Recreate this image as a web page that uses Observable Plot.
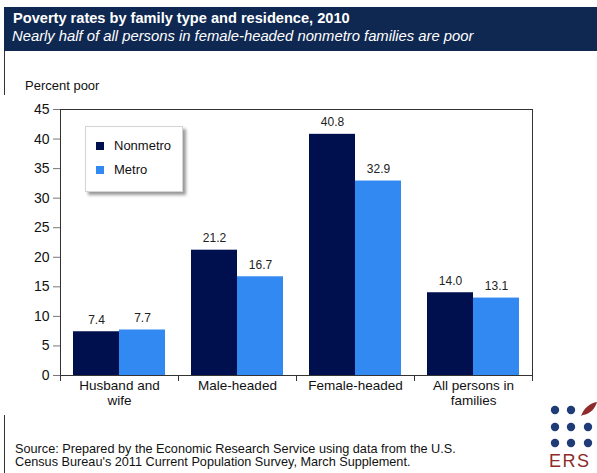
<!DOCTYPE html>
<html>
<head>
<meta charset="utf-8">
<script src="https://cdn.jsdelivr.net/npm/d3@7"></script>
<script src="https://cdn.jsdelivr.net/npm/@observablehq/plot@0.6"></script>
<style>
  html, body { margin: 0; padding: 0; background: #fff; }
  body { font-family: "Liberation Sans", Arial, Helvetica, sans-serif; color: #111; }
  #page { position: relative; width: 597px; height: 473px; overflow: hidden; background: #fff; }
  #border { position: absolute; left: 4px; top: 7px; width: 1px; height: 466px; background: #333; }
  #header { position: absolute; left: 4px; top: 7px; width: 593px; height: 44px; background: #0f2851; color: #fff; }
  #title { position: absolute; left: 9px; top: 3px; font-weight: bold; font-size: 14.6px; white-space: nowrap; }
  #subtitle { position: absolute; left: 8px; top: 21px; font-style: italic; font-size: 14.8px; white-space: nowrap; }
  #ylabel { position: absolute; left: 25px; top: 78px; font-size: 13px; }
  #chart { position: absolute; left: 0; top: 95px; }
  #legend { position: absolute; left: 85px; top: 126px; width: 96px; height: 64px; background: #fff;
            border: 1px solid #d4d4d4; box-shadow: 3px 3px 3px #9a9a9a; }
  .li { position: absolute; left: 10px; font-size: 13px; white-space: nowrap; }
  .sw { display: inline-block; width: 8px; height: 8px; margin-right: 10px; vertical-align: 0px; }
  #source { position: absolute; left: 15px; top: 443px; font-size: 12.7px; line-height: 12.5px; white-space: nowrap; }
  #logo { position: absolute; left: 540px; top: 398px; }
</style>
</head>
<body>
<div id="page">
  <div id="border"></div>
  <div id="header">
    <div id="title">Poverty rates by family type and residence, 2010</div>
    <div id="subtitle">Nearly half of all persons in female-headed nonmetro families are poor</div>
  </div>
  <div id="ylabel">Percent poor</div>
  <div id="chart"></div>
  <div id="legend"></div>
  <div id="source">Source: Prepared by the Economic Research Service using data from the U.S.<br>Census Bureau's 2011 Current Population Survey, March Supplement.</div>
  <svg id="logo" width="57" height="75" viewBox="0 0 57 75">
    <g fill="#1f3c78">
      <circle cx="15" cy="12" r="4.2"/><circle cx="31" cy="12" r="4.2"/>
      <circle cx="15" cy="29" r="4.2"/><circle cx="31" cy="29" r="4.2"/><circle cx="48" cy="29" r="4.2"/>
      <circle cx="15" cy="45" r="4.2"/><circle cx="31" cy="45" r="4.2"/><circle cx="48" cy="45" r="4.2"/>
    </g>
    <path d="M41 18 C44 10 50 5 57 4 C55 11 50 16 43 17 Z" fill="#8e2b2b"/>
    <text x="9" y="69" font-family="Liberation Sans, Arial, sans-serif" font-size="18" letter-spacing="1.5" fill="#8e2b2b">ERS</text>
  </svg>
</div>
<script>
const categories = ["Husband and wife", "Male-headed", "Female-headed", "All persons in families"];
const categoryLabels = ["Husband and\nwife", "Male-headed", "Female-headed", "All persons in\nfamilies"];
const seriesNames = ["Nonmetro", "Metro"];
const seriesColors = ["#000f4d", "#3389f2"];
const nonmetroValues = [7.4, 21.2, 40.8, 14.0];
const metroValues = [7.7, 16.7, 32.9, 13.1];
const yTicks = [0, 5, 10, 15, 20, 25, 30, 35, 40, 45];

const nonmetroRows = categories.map((c, i) => ({category: c, series: seriesNames[0], value: nonmetroValues[i]}));
const metroRows = categories.map((c, i) => ({category: c, series: seriesNames[1], value: metroValues[i]}));
const labelOf = new Map(categories.map((c, i) => [c, categoryLabels[i]]));

const halfBand = 59, barW = 46, outerPad = halfBand - barW;
const labelShift = outerPad + barW / 2 - halfBand;

const chart = Plot.plot({
  width: 597,
  height: 320,
  marginTop: 14,
  marginBottom: 40,
  marginLeft: 60,
  marginRight: 65,
  x: {domain: categories, padding: 0},
  y: {domain: [0, 45]},
  color: {domain: seriesNames, range: seriesColors},
  style: {fontFamily: "Liberation Sans, Arial, Helvetica, sans-serif", fontSize: "13px", color: "#111", background: "white", overflow: "visible"},
  marks: [
    Plot.barY(nonmetroRows, {x: "category", y: "value", fill: "series", insetLeft: outerPad, insetRight: halfBand}),
    Plot.barY(metroRows, {x: "category", y: "value", fill: "series", insetLeft: halfBand, insetRight: outerPad}),
    Plot.text(nonmetroRows, {x: "category", y: "value", text: d => d.value.toFixed(1), dx: labelShift, dy: -12, fontSize: 12, fill: "#222"}),
    Plot.text(metroRows, {x: "category", y: "value", text: d => d.value.toFixed(1), dx: -labelShift, dy: -12, fontSize: 12, fill: "#222"}),
    Plot.axisY(yTicks, {tickSize: 7, tickPadding: 4, label: null, fontSize: 14, stroke: "#777", fill: "#111"}),
    Plot.axisX(categories, {tickSize: 0, tickPadding: 3, tickFormat: d => labelOf.get(d), lineHeight: 1.15, fontSize: 13.5, label: null, fill: "#111"}),
    Plot.axisX(categories, {tickSize: 6, fill: "none", dx: -halfBand, stroke: "#333", label: null}),
    Plot.axisX(categories.slice(-1), {tickSize: 6, fill: "none", dx: halfBand, stroke: "#333", label: null}),
    Plot.frame({stroke: "#333"})
  ]
});
document.getElementById("chart").appendChild(chart);

const legend = document.getElementById("legend");
seriesNames.forEach((name, i) => {
  const item = document.createElement("div");
  item.className = "li";
  item.style.top = (11 + i * 24) + "px";
  const sw = document.createElement("span");
  sw.className = "sw";
  sw.style.background = seriesColors[i];
  item.appendChild(sw);
  item.appendChild(document.createTextNode(name));
  legend.appendChild(item);
});
</script>
</body>
</html>
